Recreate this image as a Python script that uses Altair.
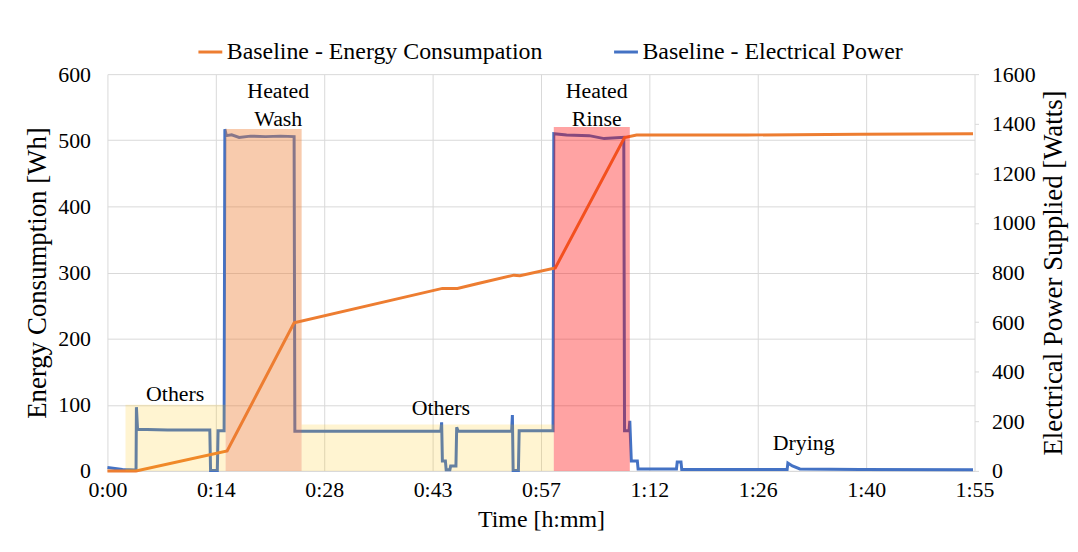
import altair as alt
import pandas as pd

FONT = "Liberation Serif"
GRID = "#D9D9D9"
ORANGE = "#ED7D31"
BLUE = "#4472C4"

# ---- data ----
x_tick_minutes = [0, 14.4, 28.8, 43.2, 57.6, 72.0, 86.4, 100.8, 115.2]
energy_ticks = [0, 100, 200, 300, 400, 500, 600]
power_ticks = [0, 200, 400, 600, 800, 1000, 1200, 1400, 1600]

series_names = ["Baseline - Energy Consumpation", "Baseline - Electrical Power"]

energy_t = [0, 3.8, 15.9, 24.8, 44.5, 46.5, 49.1, 54.0, 54.8, 59.5, 68.7, 70.3, 85, 100, 115]
energy_wh = [0, 0, 30, 224, 276, 276, 283, 296, 295, 307, 504, 508, 508, 509, 510]

power_t = [0, 1.0, 2.0, 3.7, 3.8, 3.85, 4.0, 8.0, 13.6, 13.7, 14.6, 14.7, 15.5, 15.6, 15.8,
           16.5, 17.5, 19, 21, 23, 24.8, 24.9, 30, 44.3, 44.4, 44.5, 44.9, 45.0, 45.5, 45.6,
           46.3, 46.4, 46.6, 53.7, 53.8, 53.9, 54.6, 54.7, 59.2, 59.3, 61, 64, 66, 68.6,
           68.7, 69.3, 69.4, 69.6, 70.4, 70.5, 75.6, 75.7, 76.2, 76.3, 90.3, 90.4, 91.0, 92.0,
           100, 115]
power_w = [14, 10, 6, 4, 4, 257, 168, 165, 165, 2, 2, 162, 162, 1378, 1352,
           1355, 1345, 1350, 1348, 1350, 1348, 160, 160, 160, 196, 40, 40, 5, 5, 20,
           20, 176, 160, 160, 225, 2, 2, 162, 162, 1360, 1355, 1352, 1340, 1345,
           162, 162, 202, 40, 40, 8, 8, 36, 36, 6, 6, 32, 20, 8,
           6, 5]

phase_names = ["Others", "Heated Wash", "Others", "Heated Rinse"]
phase_start = [2.4, 15.7, 25.8, 59.3]
phase_end = [15.7, 25.8, 59.3, 69.4]
phase_top = [100, 517, 70, 520]

label_text = ["Others", "Heated\nWash", "Others", "Heated\nRinse", "Drying"]
label_t = [9.0, 22.7, 44.3, 65.0, 92.5]
label_wh = [116, 574, 95, 574, 42]

# ---- tables ----
energy_df = pd.DataFrame({"t": energy_t, "wh": energy_wh, "series": series_names[0]})
power_df = pd.DataFrame({"t": power_t, "w": power_w, "series": series_names[1]})
phase_df = pd.DataFrame({"phase": phase_names, "t0": phase_start, "t1": phase_end,
                         "lo": [0] * len(phase_names), "hi": phase_top})
label_df = pd.DataFrame({"label": label_text, "t": label_t, "wh": label_wh})

x_scale = alt.Scale(domain=[0, 115.2], nice=False, zero=False)
x_axis = alt.Axis(
    values=x_tick_minutes,
    labelExpr="floor(datum.value/60) + ':' + (floor(datum.value%60) < 10 ? '0' : '') + floor(datum.value%60)",
    title="Time [h:mm]", grid=True, gridColor=GRID, domainColor=GRID, ticks=False,
    labelFlush=False, labelPadding=9, titlePadding=7, labelFontSize=22, titleFontSize=24,
)
e_scale = alt.Scale(domain=[0, 600], nice=False)
e_axis = alt.Axis(values=energy_ticks, title="Energy Consumption [Wh]", orient="left",
                  grid=True, gridColor=GRID, domain=False, ticks=False,
                  labelPadding=17, titlePadding=6, labelFontSize=22, titleFontSize=27)
p_scale = alt.Scale(domain=[0, 1600], nice=False)
p_axis = alt.Axis(values=power_ticks, format="d", title="Electrical Power Supplied [Watts]",
                  orient="right", grid=False, domain=False, ticks=True, tickColor=GRID,
                  tickSize=4, labelPadding=13, titlePadding=5, titleAngle=270,
                  titleBaseline="top", labelFontSize=22, titleFontSize=27)

color = alt.Color("series:N", scale=alt.Scale(domain=series_names, range=[ORANGE, BLUE]),
                  legend=alt.Legend(title=None, orient="none", legendX=90, legendY=-36,
                                    direction="horizontal", symbolType="stroke",
                                    symbolStrokeWidth=3, symbolSize=576, labelOffset=3,
                                    columnPadding=65, labelFontSize=24, labelFont=FONT,
                                    labelColor="#000", labelLimit=600))

blue_line = alt.Chart(power_df).mark_line(strokeWidth=3).encode(
    x=alt.X("t:Q", scale=x_scale, axis=x_axis),
    y=alt.Y("w:Q", scale=p_scale, axis=p_axis),
    color=color,
)

orange_line = alt.Chart(energy_df).mark_line(strokeWidth=3).encode(
    x=alt.X("t:Q", scale=x_scale, axis=x_axis),
    y=alt.Y("wh:Q", scale=e_scale, axis=e_axis),
    color=color,
)

rects = alt.Chart(phase_df).mark_rect().encode(
    x=alt.X("t0:Q", scale=x_scale, axis=x_axis),
    x2="t1:Q",
    y=alt.Y("lo:Q", scale=e_scale, axis=e_axis),
    y2="hi:Q",
    fill=alt.Fill("phase:N", legend=None, scale=alt.Scale(
        domain=["Others", "Heated Wash", "Heated Rinse"],
        range=["rgba(255,192,0,0.18)", "rgba(237,125,49,0.4)", "rgba(255,0,0,0.36)"])),
)

texts = alt.Chart(label_df).mark_text(font=FONT, fontSize=22, color="#000", lineBreak="\n",
                                      lineHeight=28, align="center", baseline="middle").encode(
    x=alt.X("t:Q", scale=x_scale, axis=x_axis),
    y=alt.Y("wh:Q", scale=e_scale, axis=e_axis),
    text="label:N",
)

left_group = alt.layer(orange_line, rects, texts)

chart = alt.layer(blue_line, left_group).resolve_scale(y="independent").properties(
    width=872, height=399,
    autosize=alt.AutoSizeParams(type="none"),
    padding={"left": 100, "top": 65, "right": 96, "bottom": 72},
).configure_axis(
    labelFont=FONT, titleFont=FONT,
    labelColor="#000", titleColor="#000", titleFontWeight="normal",
).configure_view(stroke=None)

chart.save("out.html", embed_options={"renderer": "svg", "actions": False})
